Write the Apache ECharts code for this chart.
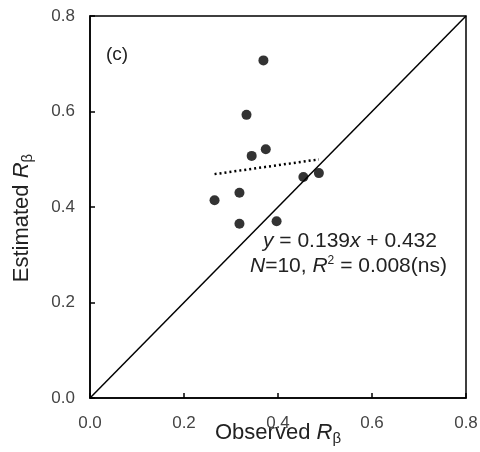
<!DOCTYPE html>
<html>
<head>
<meta charset="utf-8">
<script src="https://cdn.jsdelivr.net/npm/echarts@6/dist/echarts.min.js"></script>
<style>
  html, body { margin: 0; padding: 0; background: #fff; }
  #chart { width: 480px; height: 452px; }
</style>
</head>
<body>
<div id="chart"></div>
<script>
// observed vs estimated R-beta, panel (c)
const observed = [0.369, 0.333, 0.374, 0.344, 0.454, 0.487, 0.318, 0.265, 0.318, 0.397];
const estimated = [0.707, 0.593, 0.521, 0.507, 0.463, 0.471, 0.430, 0.414, 0.365, 0.370];
const oneToOne = [[0, 0], [0.8, 0.8]];
const slope = 0.139;
const intercept = 0.432;

const points = observed.map((x, i) => [x, estimated[i]]);
const xMin = Math.min(...observed);
const xMax = Math.max(...observed);
const fitLine = [[xMin, slope * xMin + intercept], [xMax, slope * xMax + intercept]];

const font = 'Liberation Sans, Arial, sans-serif';
const nameRich = {
  n: {fontSize: 22, color: '#222', fontFamily: font},
  i: {fontSize: 22, color: '#222', fontFamily: font, fontStyle: 'italic'},
  s: {fontSize: 15, color: '#222', fontFamily: font, padding: [12, 0, 0, 0]},
};

const axisCommon = {
  type: 'value',
  min: 0,
  max: 0.8,
  interval: 0.2,
  nameLocation: 'middle',
  nameMoveOverlap: false,
  axisLine: {show: true, lineStyle: {color: '#000', width: 1.5}},
  axisTick: {show: true, inside: true, length: 5, lineStyle: {color: '#000', width: 1.5}},
  axisLabel: {
    color: '#444',
    fontSize: 17,
    fontFamily: font,
    formatter: (v) => v.toFixed(1),
  },
  splitLine: {show: false},
};

const chart = echarts.init(document.getElementById('chart'));

chart.setOption({
  animation: false,
  backgroundColor: '#fff',
  grid: {
    left: 90, right: 14, top: 16, bottom: 54,
    outerBoundsMode: 'none',
    show: true, borderColor: '#000', borderWidth: 1.5,
  },
  xAxis: Object.assign({}, axisCommon, {
    name: '{n|Observed }{i|R}{s|β}',
    nameGap: 21,
    nameTextStyle: {rich: nameRich},
    axisLabel: Object.assign({}, axisCommon.axisLabel, {margin: 17}),
  }),
  yAxis: Object.assign({}, axisCommon, {
    name: '{n|Estimated }{i|R}{s|β}',
    nameGap: 55,
    nameTextStyle: {rich: nameRich, padding: [0, 22, 0, 0]},
    axisLabel: Object.assign({}, axisCommon.axisLabel, {margin: 15}),
  }),
  graphic: [
    {
      type: 'text', left: 106, top: 45,
      style: {text: '(c)', fontSize: 19, fill: '#222', fontFamily: font},
    },
    {
      type: 'text', left: 263, top: 231,
      style: {
        text: '{i|y} = 0.139{i|x} + 0.432',
        fill: '#222', fontSize: 21, fontFamily: font,
        rich: {i: {fontStyle: 'italic', fontSize: 21, fontFamily: font, fill: '#222'}},
      },
    },
    {
      type: 'text', left: 250, top: 255,
      style: {
        text: '{i|N}=10, {i|R}{p|2} = 0.008(ns)',
        fill: '#222', fontSize: 21, fontFamily: font,
        rich: {
          i: {fontStyle: 'italic', fontSize: 21, fontFamily: font, fill: '#222'},
          p: {fontSize: 12, fontFamily: font, fill: '#222', padding: [0, 0, 10, 0]},
        },
      },
    },
  ],
  series: [
    {
      type: 'line',
      data: oneToOne,
      symbol: 'none',
      lineStyle: {color: '#000', width: 1.5},
      z: 1,
    },
    {
      type: 'line',
      data: fitLine,
      symbol: 'none',
      lineStyle: {color: '#000', width: 2.5, type: [2, 3]},
      z: 2,
    },
    {
      type: 'scatter',
      data: points,
      symbolSize: 10,
      itemStyle: {color: '#000'},
      z: 3,
    },
  ],
});
</script>
</body>
</html>
